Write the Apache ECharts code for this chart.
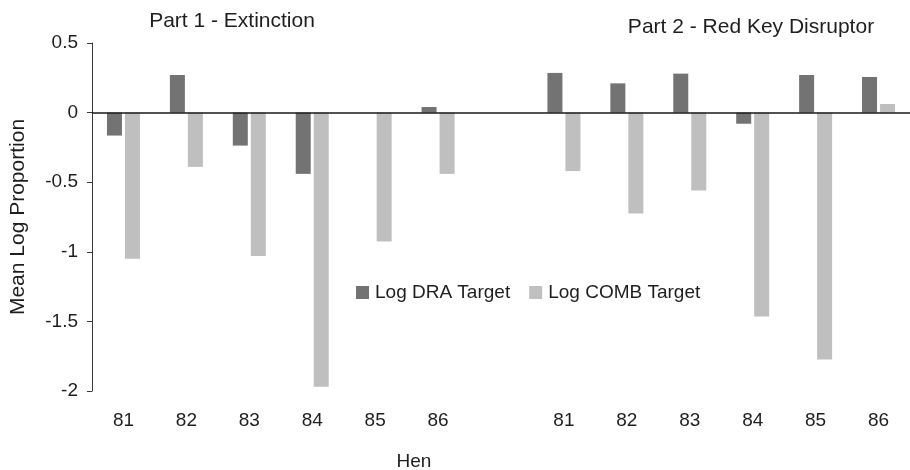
<!DOCTYPE html>
<html>
<head>
<meta charset="utf-8">
<script src="https://cdn.jsdelivr.net/npm/echarts@6/dist/echarts.min.js"></script>
<style>
  html, body { margin: 0; padding: 0; background: #fff; }
  #chart { width: 910px; height: 470px; }
</style>
</head>
<body>
<div id="chart"></div>
<script>
// Hens tested in each part; an empty slot separates the two parts
const hens = ['81', '82', '83', '84', '85', '86'];
const categories = [...hens, '', ...hens];

// Mean log proportions per hen (Part 1, gap, Part 2)
const logDRA  = [-0.165, 0.27, -0.237, -0.44, 0, 0.04, null, 0.285, 0.21, 0.28, -0.08, 0.27, 0.256];
const logCOMB = [-1.05, -0.39, -1.03, -1.97, -0.926, -0.44, null, -0.42, -0.725, -0.56, -1.464, -1.773, 0.062];

const yTicks = { min: -2, max: 0.5, interval: 0.5 };
const partTitles = ['Part 1 - Extinction', 'Part 2 - Red Key Disruptor'];

const FONT = '"Liberation Sans", Arial, Helvetica, sans-serif';
const TEXT = '#1e1e1e';

const chart = echarts.init(document.getElementById('chart'), null, { renderer: 'canvas' });

chart.setOption({
  backgroundColor: '#ffffff',
  animation: false,
  textStyle: { fontFamily: FONT, color: TEXT },
  grid: { left: 85.5, top: 43, width: 832, height: 348, containLabel: false },
  legend: {
    left: 351, top: 278,
    padding: 5,
    itemWidth: 13, itemHeight: 13, itemGap: 19,
    icon: 'rect',
    textStyle: { fontFamily: FONT, fontSize: 19, color: TEXT, padding: [0, 0, 0, 1] },
    data: ['Log DRA Target', 'Log COMB Target']
  },
  xAxis: {
    type: 'category',
    data: categories,
    axisLine: { show: false, onZero: false },
    axisTick: { show: false },
    axisLabel: { fontFamily: FONT, fontSize: 19, color: TEXT, margin: 20, interval: 0 },
    splitLine: { show: false }
  },
  yAxis: {
    type: 'value',
    min: yTicks.min, max: yTicks.max, interval: yTicks.interval,
    name: 'Mean Log Proportion',
    nameLocation: 'middle',
    nameGap: 63,
    nameRotate: 90,
    nameTextStyle: { fontFamily: FONT, fontSize: 21, color: TEXT },
    axisLine: { show: true, lineStyle: { color: '#3a3a3a', width: 1 } },
    axisTick: { show: true, length: 5, lineStyle: { color: '#3a3a3a' } },
    axisLabel: { fontFamily: FONT, fontSize: 19, color: TEXT, margin: 14 },
    splitLine: { show: false }
  },
  series: [
    {
      name: 'Log DRA Target',
      type: 'bar',
      data: logDRA,
      barWidth: 15,
      barGap: '20%',
      itemStyle: { color: '#737373' },
      markLine: {
        silent: true,
        symbol: 'none',
        label: { show: false },
        lineStyle: { color: '#1a1a1a', width: 1.6, type: 'solid' },
        data: [{ yAxis: 0 }]
      }
    },
    {
      name: 'Log COMB Target',
      type: 'bar',
      data: logCOMB,
      barWidth: 15,
      barGap: '20%',
      itemStyle: { color: '#bfbfbf' }
    }
  ],
  graphic: [
    {
      type: 'text', x: 232, y: 21,
      style: { text: partTitles[0], font: '21px ' + FONT, fill: TEXT, textAlign: 'center', textVerticalAlign: 'middle' }
    },
    {
      type: 'text', x: 751, y: 27,
      style: { text: partTitles[1], font: '21px ' + FONT, fill: TEXT, textAlign: 'center', textVerticalAlign: 'middle' }
    },
    {
      type: 'text', x: 414, y: 462,
      style: { text: 'Hen', font: '19px ' + FONT, fill: TEXT, textAlign: 'center', textVerticalAlign: 'middle' }
    }
  ]
});
</script>
</body>
</html>
